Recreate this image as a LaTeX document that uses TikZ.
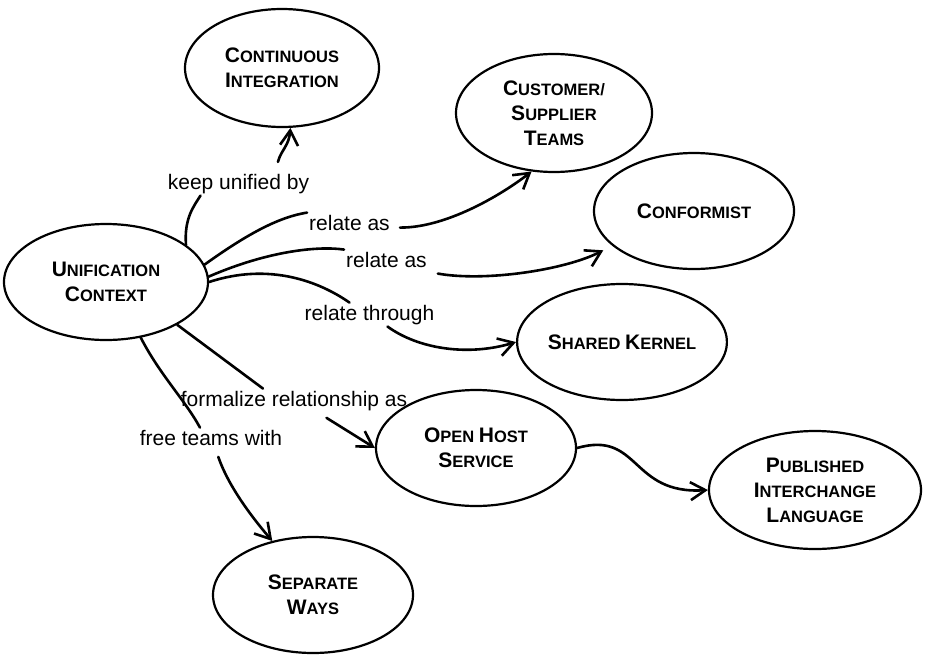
\documentclass[tikz,border=0pt]{standalone}
\usepackage{fontspec}
\setmainfont{Liberation Sans}
\usetikzlibrary{shapes.geometric,arrows.meta}
% large initial letter for the small-caps style headings
\newcommand\Ini[1]{{\fontsize{21}{25}\selectfont #1}}

\begin{document}
\begin{tikzpicture}[x=1pt,y=-1pt,
  entity/.style={ellipse,draw,line width=2.2pt,inner sep=0pt,align=center,
    font=\bfseries\fontsize{16.5}{25}\selectfont},
  rel/.style={font=\fontsize{21}{25}\selectfont,inner sep=2pt,anchor=base},
  conn/.style={line width=2.6pt,line cap=round,
    -{Straight Barb[length=15pt,width=18pt]}}]
\useasboundingbox (0,0) rectangle (928,656);

% patterns
\node[entity,minimum width=204pt,minimum height=116pt] (uc) at (106,282)
  {\Ini{U}NIFICATION\\\Ini{C}ONTEXT};
\node[entity,minimum width=194pt,minimum height=118pt] (ci) at (282,68)
  {\Ini{C}ONTINUOUS\\\Ini{I}NTEGRATION};
\node[entity,minimum width=196pt,minimum height=118pt] (cs) at (554,113)
  {\Ini{C}USTOMER/\\\Ini{S}UPPLIER\\\Ini{T}EAMS};
\node[entity,minimum width=200pt,minimum height=116pt] (cf) at (694,211)
  {\Ini{C}ONFORMIST};
\node[entity,minimum width=198pt,minimum height=116pt] (sk) at (622,342)
  {\Ini{S}HARED \Ini{K}ERNEL};
\node[entity,minimum width=200pt,minimum height=116pt] (oh) at (476,448)
  {\Ini{O}PEN \Ini{H}OST\\\Ini{S}ERVICE};
\node[entity,minimum width=212pt,minimum height=118pt] (pl) at (815,490)
  {\Ini{P}UBLISHED\\\Ini{I}NTERCHANGE\\\Ini{L}ANGUAGE};
\node[entity,minimum width=200pt,minimum height=116pt] (sw) at (313,595)
  {\Ini{S}EPARATE\\\Ini{W}AYS};

% relationship labels
\node[rel] (l1) at (238.5,189) {keep unified by};
\node[rel] (l2) at (349.5,230) {relate as};
\node[rel] (l3) at (386.5,267) {relate as};
\node[rel] (l4) at (369.5,320) {relate through};
\node[rel] (l5) at (294,406) {formalize relationship as};
\node[rel] (l6) at (211,445) {free teams with};

% connectors, each broken where its label sits
\draw[conn,shorten <=10pt] (uc.25) .. controls (184,218) and (194,206) .. ([xshift=-38pt]l1.south)
  ([xshift=37pt]l1.north) .. controls (281,150) and (289,146) .. (ci.278);
\draw[conn,shorten <=8pt] (uc.10) .. controls (250,232) and (280,217) .. (l2.north west)
  ([yshift=-5pt]l2.east) .. controls (445,228) and (500,196) .. (cs.249);
\draw[conn,shorten <=9pt,shorten >=10pt] (uc.3) .. controls (270,250) and (320,246) .. (l3.north west)
  ([yshift=-5pt]l3.base east) .. controls (485,282) and (565,270) .. (cf.203);
\draw[conn] (uc.0) .. controls (270,262) and (320,282) .. ([xshift=-20pt]l4.north)
  ([xshift=18pt]l4.south) .. controls (420,350) and (470,356) .. (sk.west);
\draw[conn,shorten <=10pt] (uc.-31) -- ([xshift=-31pt]l5.north)
  ([xshift=24pt]l5.south) -- (oh.west);
\draw[conn,shorten <=10pt] (uc.-58) .. controls (160,375) and (185,400) .. ([xshift=-11pt]l6.north)
  ([xshift=4pt]l6.south) .. controls (228,485) and (250,515) .. (sw.127);
\draw[conn] (oh.east) .. controls (640,430) and (630,495) .. (pl.west);
\end{tikzpicture}
\end{document}
